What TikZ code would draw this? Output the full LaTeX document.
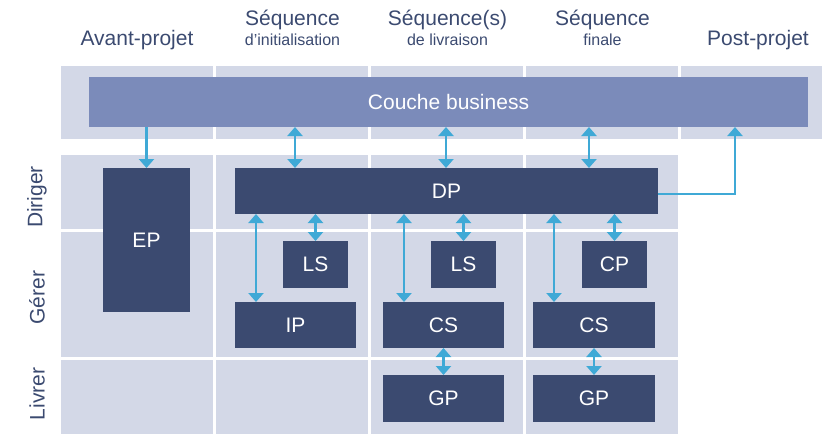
\documentclass[tikz,border=0pt]{standalone}
\usepackage{fontspec}
\setmainfont{Liberation Sans}
\usepackage{xcolor}
\usepackage{tikz}
\usetikzlibrary{arrows.meta}
\definecolor{cellgrey}{HTML}{D3D8E7}
\definecolor{layerblue}{HTML}{7B8BBA}
\definecolor{boxblue}{HTML}{3B4A70}
\definecolor{linkblue}{HTML}{3FA9D6}
\tikzset{%
  every cell/.style={
    fill=cellgrey
  },
  every box/.style={
    fill=boxblue,
    text=white,
    inner sep=0pt,
    outer sep=0pt,
    font=\fontsize{21}{25}\selectfont
  },
  box layer/.style={
    fill=layerblue
  },
  every link/.style={
    draw=linkblue,
    line width=2.4pt
  },
  phase title/.style={
    text=boxblue,
    anchor=base,
    font=\fontsize{21}{25}\selectfont
  },
  phase sub/.style={
    text=boxblue,
    anchor=base,
    font=\fontsize{16}{19}\selectfont
  },
  row title/.style={
    text=boxblue,
    rotate=90,
    font=\fontsize{21}{25}\selectfont
  },
}

\begin{document}
\begin{tikzpicture}[x=1pt, y=-1pt, >={Triangle[width=15pt,length=9pt]}]

    \useasboundingbox (0,0) rectangle (833,440);

    \foreach \x in {61,216,371,526}
    \fill [every cell] (\x,66) rectangle ++(152,73);
    \fill [every cell] (681,66) rectangle (822,139);

    \foreach \x in {61,216,371,526}
    \foreach \y/\h in {155/74,232/125,360/74}
        \fill [every cell] (\x,\y) rectangle ++(152,\h);

    \node [phase title] (head-1) at (137,45) {Avant-projet};
    \foreach \x/\t/\s [count=\i from 2] in {292.5/Séquence/d’initialisation,
        447.5/Séquence(s)/de livraison, 602.5/Séquence/finale} {
        \node [phase title] (head-\i) at (\x,25.5) {\t};
        \node [phase sub] (sub-\i) at (\x,45.5) {\s};
    }
    \node [phase title] (head-5) at (758,45) {Post-projet};

    \foreach \t/\y [count=\i] in {Diriger/197, Gérer/297.5, Livrer/394}
    \node [row title] (row-\i) at (37,\y) {\t};

    \node [every box, box layer, minimum width=719, minimum height=50]
        (cb) at (448.5,102) {Couche business};

    \foreach \n/\t/\x/\y/\w/\h in {ep/EP/146.5/240/87/144,
        dp/DP/446.5/191/423/46,
        ls1/LS/315.5/264.5/65/47, ip/IP/295.5/325/121/46,
        ls2/LS/463.5/264.5/65/47, cs1/CS/443.5/325/121/46,
        gp1/GP/443.5/398.5/121/47,
        cp/CP/614.5/264.5/65/47, cs2/CS/594/325/122/46,
        gp2/GP/594/398.5/122/47}
    \node [every box, minimum width=\w, minimum height=\h] (\n) at (\x,\y) {\t};

    \draw [every link, ->] (cb.south -| ep.north) -- (ep.north);

    \foreach \x [count=\i] in {295,446,589} {
        \coordinate (up-\i) at (\x,0);
        \draw [every link, <->] (cb.south -| up-\i) -- (dp.north -| up-\i);
    }

    \coordinate (post) at (735,0);
    \draw [every link, ->] ([yshift=-3pt]dp.east) -| (cb.south -| post);

    \foreach \b in {ls1,ls2,cp}
        \draw [every link, <->] (dp.south -| \b.north) -- (\b.north);

    \foreach \b in {ip,cs1,cs2}
        \draw [every link, <->] ([xshift=21pt]\b.north west)
            -- ([xshift=21pt]\b.north west |- dp.south);

    \foreach \a/\b in {cs1/gp1,cs2/gp2}
        \draw [every link, <->] (\a.south) -- (\b.north);

\end{tikzpicture}
\end{document}
